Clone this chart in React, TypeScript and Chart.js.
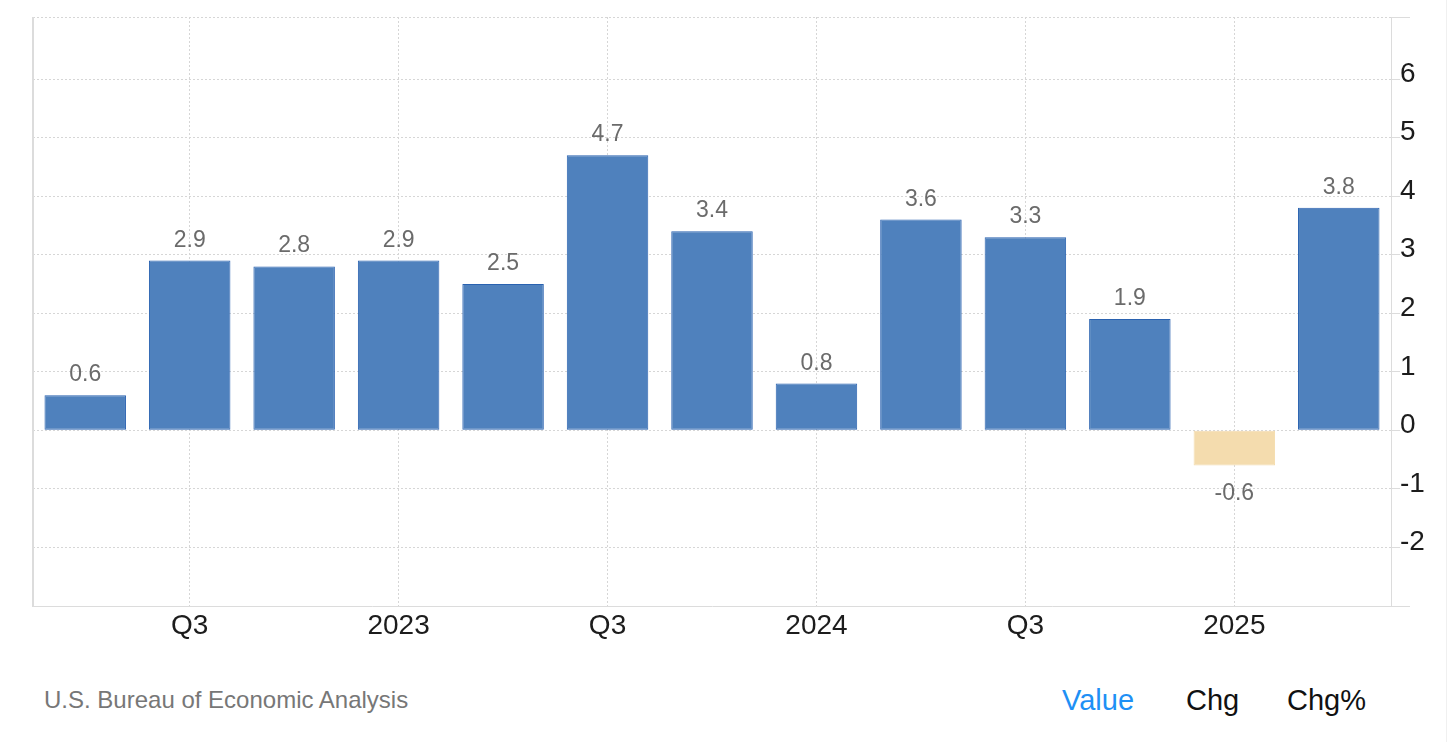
import React, { useEffect, useRef } from "react";
import { Chart, registerables } from "chart.js";

Chart.register(...registerables);

const quarters = [
  "2022 Q2", "2022 Q3", "2022 Q4", "2023 Q1", "2023 Q2", "2023 Q3", "2023 Q4",
  "2024 Q1", "2024 Q2", "2024 Q3", "2024 Q4", "2025 Q1", "2025 Q2",
];
const tickLabels = ["", "Q3", "", "2023", "", "Q3", "", "2024", "", "Q3", "", "2025", ""];
const gdpValues = [0.6, 2.9, 2.8, 2.9, 2.5, 4.7, 3.4, 0.8, 3.6, 3.3, 1.9, -0.6, 3.8];
const yLabelledTicks = [-2, -1, 0, 1, 2, 3, 4, 5, 6];
const yMin = -3;
const yMax = 7.06;

const FONT = "'Liberation Sans', Arial, Helvetica, sans-serif";
const POS_COLOR = "#4f81bd";
const POS_BORDER = "#2a62b0";
const NEG_COLOR = "#f4dcae";
const GRID = "#d6d6d6";
const AXIS = "#dcdcdc";

const valueLabels = {
  id: "valueLabels",
  afterDatasetsDraw(chart: any) {
    const ctx = chart.ctx;
    const meta = chart.getDatasetMeta(0);
    ctx.save();
    ctx.font = `23px ${FONT}`;
    ctx.fillStyle = "#6b6b6b";
    ctx.textAlign = "center";
    ctx.textBaseline = "alphabetic";
    meta.data.forEach((el: any, i: number) => {
      const v = gdpValues[i];
      const txt = v.toFixed(1);
      if (v >= 0) {
        ctx.fillText(txt, el.x, el.y - 14);
      } else {
        ctx.fillText(txt, el.x, el.y + 35);
      }
    });
    ctx.restore();
  },
};

const frameLines = {
  id: "frameLines",
  afterDraw(chart: any) {
    const { ctx, chartArea } = chart;
    ctx.save();
    ctx.strokeStyle = AXIS;
    ctx.setLineDash([]);
    ctx.lineWidth = 2;
    ctx.beginPath();
    ctx.moveTo(chartArea.left, chartArea.top);
    ctx.lineTo(chartArea.left, chartArea.bottom + 1);
    ctx.stroke();
    ctx.lineWidth = 1;
    ctx.beginPath();
    ctx.moveTo(chartArea.right, Math.round(chartArea.top) + 0.5);
    ctx.lineTo(chartArea.right + 19, Math.round(chartArea.top) + 0.5);
    ctx.moveTo(chartArea.right, Math.round(chartArea.bottom) + 0.5);
    ctx.lineTo(chartArea.right + 19, Math.round(chartArea.bottom) + 0.5);
    ctx.stroke();
    ctx.restore();
  },
};

export default function App() {
  const ref = useRef<HTMLCanvasElement | null>(null);

  useEffect(() => {
    if (!ref.current) return;
    const chart = new Chart(ref.current, {
      type: "bar",
      data: {
        labels: quarters,
        datasets: [
          {
            data: gdpValues,
            backgroundColor: gdpValues.map((v) => (v >= 0 ? POS_COLOR : NEG_COLOR)),
            borderColor: gdpValues.map((v) => (v >= 0 ? POS_BORDER : NEG_COLOR)),
            borderWidth: 1,
            borderSkipped: false,
            barPercentage: 0.78,
            categoryPercentage: 1,
          },
        ],
      },
      options: {
        responsive: false,
        animation: false,
        devicePixelRatio: 1,
        layout: { padding: { left: 33, top: 17, right: 0, bottom: 0 } },
        plugins: {
          legend: { display: false },
          tooltip: { enabled: false },
          title: { display: false },
        },
        scales: {
          x: {
            type: "category",
            offset: true,
            grid: {
              offset: false,
              drawTicks: false,
              color: (c: any) =>
                c.index !== undefined && tickLabels[c.index] ? GRID : "rgba(0,0,0,0)",
              lineWidth: 1,
            },
            border: { display: true, color: AXIS, width: 1, dash: [2, 2] },
            ticks: {
              autoSkip: false,
              maxRotation: 0,
              padding: 3,
              color: "#1c1c1c",
              font: { family: FONT, size: 28 },
              callback: (_v: any, i: number) => tickLabels[i],
            },
            afterFit: (s: any) => {
              s.height = 54;
              s.paddingLeft = 0;
              s.paddingRight = 0;
            },
          },
          y: {
            position: "right",
            min: yMin,
            max: yMax,
            afterBuildTicks: (s: any) => {
              s.ticks = [yMin, ...yLabelledTicks, yMax].map((v) => ({ value: v }));
            },
            grid: {
              color: GRID,
              lineWidth: 1,
              drawTicks: true,
              tickLength: 9,
              tickColor: AXIS,
              tickBorderDash: [],
            },
            border: { display: true, color: AXIS, width: 1, dash: [2, 2] },
            ticks: {
              padding: 0,
              labelOffset: -5,
              color: "#1c1c1c",
              font: { family: FONT, size: 28 },
              callback: (v: any) => (yLabelledTicks.includes(Number(v)) ? String(v) : ""),
            },
            afterFit: (s: any) => {
              s.width = 65;
              s.paddingTop = 0;
              s.paddingBottom = 0;
            },
          },
        },
      },
      plugins: [valueLabels, frameLines],
    });
    return () => chart.destroy();
  }, []);

  const footerItem = (text: string, left: number, color: string) => (
    <div
      style={{
        position: "absolute",
        left,
        top: 682,
        fontSize: 29,
        lineHeight: "36px",
        color,
        whiteSpace: "nowrap",
      }}
    >
      {text}
    </div>
  );

  return (
    <div
      style={{
        position: "fixed",
        left: 0,
        top: 0,
        width: 1456,
        height: 742,
        background: "#fff",
        fontFamily: FONT,
        overflow: "hidden",
      }}
    >
      <canvas
        ref={ref}
        width={1456}
        height={660}
        style={{ position: "absolute", left: 0, top: 0, width: 1456, height: 660 }}
      />
      <div
        style={{
          position: "absolute",
          left: 1446,
          top: 0,
          width: 1,
          height: 742,
          background: "#f0f0f0",
        }}
      />
      <div
        style={{
          position: "absolute",
          left: 44,
          top: 684,
          fontSize: 24,
          lineHeight: "32px",
          color: "#777",
          whiteSpace: "nowrap",
        }}
      >
        U.S. Bureau of Economic Analysis
      </div>
      {footerItem("Value", 1062, "#1e90f5")}
      {footerItem("Chg", 1186, "#111")}
      {footerItem("Chg%", 1287, "#111")}
    </div>
  );
}
